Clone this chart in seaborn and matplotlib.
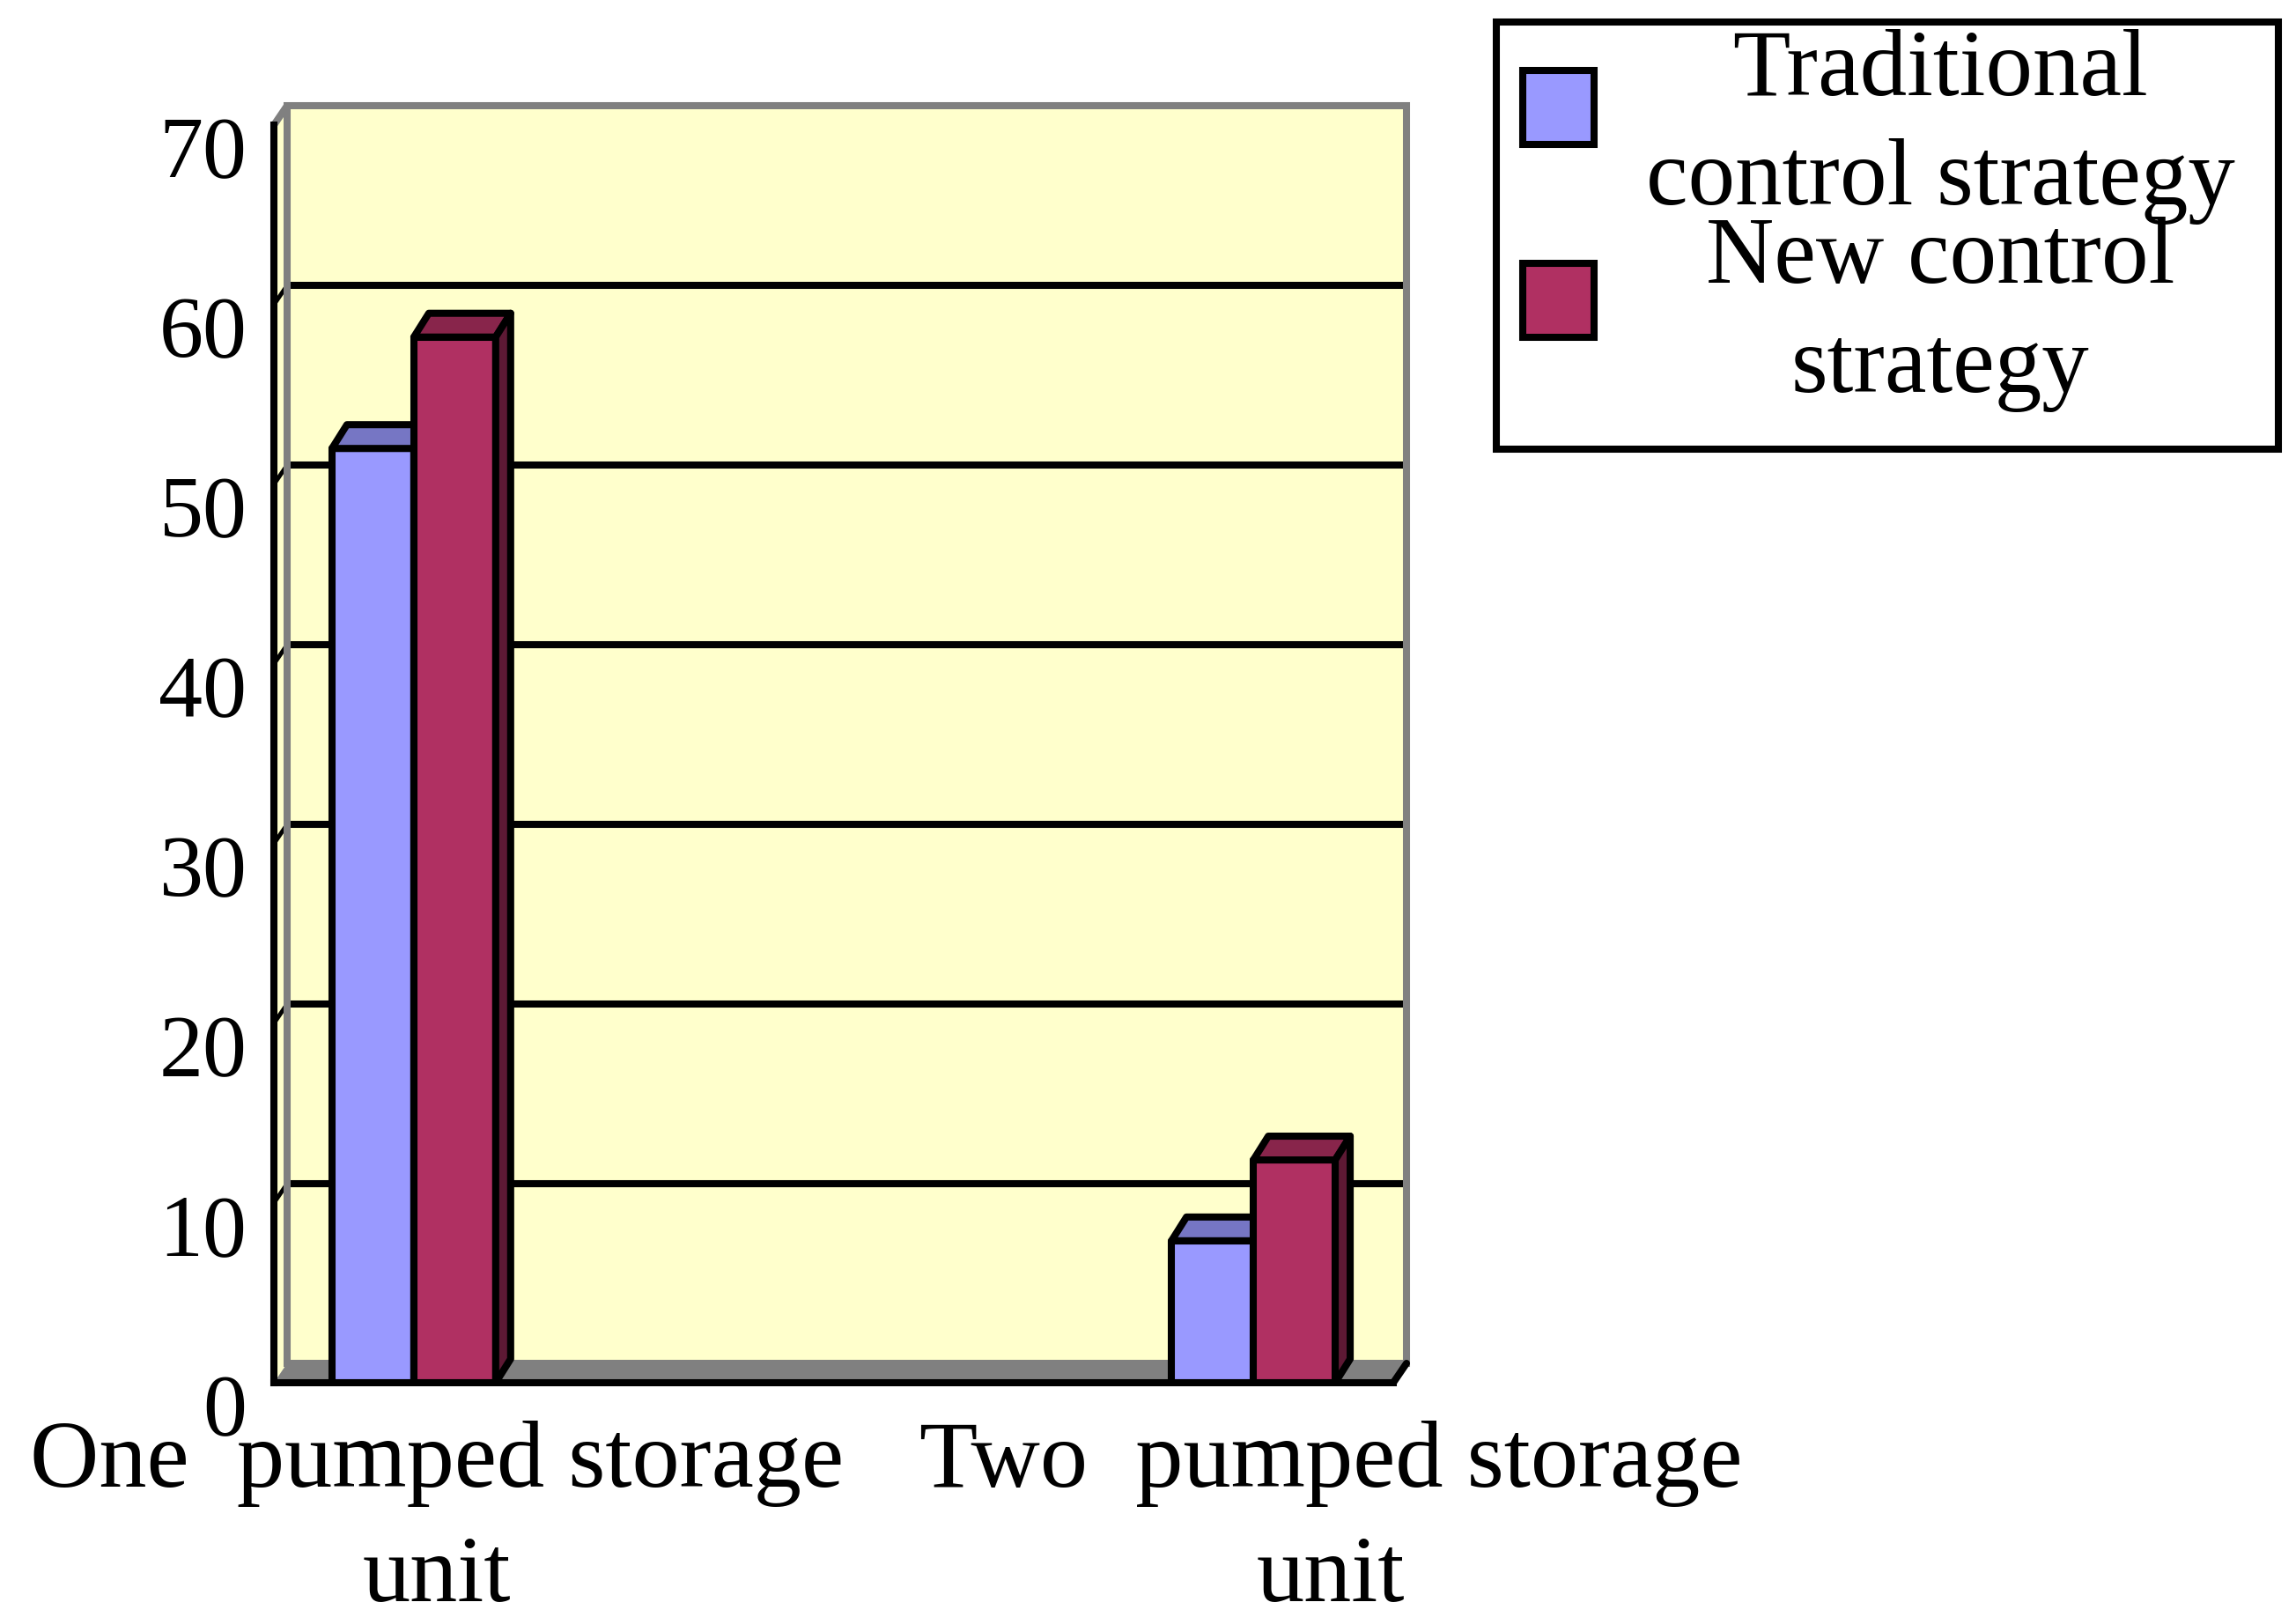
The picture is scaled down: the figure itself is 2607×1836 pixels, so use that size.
import numpy as np
import pandas as pd
import matplotlib
matplotlib.use("Agg")
import matplotlib.pyplot as plt
from matplotlib.patches import Polygon, Rectangle
from matplotlib.transforms import ScaledTranslation
import seaborn as sns

# ---------------- data ----------------
units = ["One pumped storage unit", "Two pumped storage unit"]
slots = ["One pumped storage unit", "empty slot A", "empty slot B", "Two pumped storage unit"]
slot_labels = ["One  pumped storage\nunit", "", "", "Two  pumped storage\nunit"]
series = ["Traditional control strategy", "New control strategy"]
legend_labels = ["Traditional\ncontrol strategy", "New control\nstrategy"]
traditional = [52.0, 7.9]
new_strategy = [58.2, 12.4]
y_ticks = [0, 10, 20, 30, 40, 50, 60, 70]

# ---------------- style ----------------
W, H, DPI = 2607, 1836, 100
sns.set_style("white")
plt.rcParams["font.family"] = ["Liberation Serif", "DejaVu Serif"]
plt.rcParams["text.color"] = "black"
plt.rcParams["xtick.labelcolor"] = "black"
plt.rcParams["ytick.labelcolor"] = "black"

BLUE, RED = "#9999FF", "#B03062"
WALL, GRAY = "#FFFFCC", "#808080"
LW = 5.8

fig = plt.figure(figsize=(W / DPI, H / DPI), dpi=DPI)


def fx(px):
    return px / W


def fy(py):
    return 1 - py / H


X0, X1, Y0, Y70 = 311, 1582, 1570, 142
ax = fig.add_axes([fx(X0), fy(Y0), fx(X1) - fx(X0), fy(Y70) - fy(Y0)])
ax.set_facecolor("none")

df = pd.DataFrame({
    "unit": units * 2,
    "strategy": [series[0]] * len(units) + [series[1]] * len(units),
    "value": traditional + new_strategy,
})

sns.barplot(data=df, x="unit", y="value", hue="strategy", order=slots,
            hue_order=series, palette=[BLUE, RED], width=0.585, saturation=1,
            edgecolor="black", linewidth=LW, legend=False, errorbar=None, ax=ax)

bars = sorted([p for p in ax.patches if isinstance(p, Rectangle)
               and np.isfinite(p.get_height()) and p.get_height() > 0],
              key=lambda p: p.get_x())

xl, xr = -0.5, len(slots) - 0.5
ax.set_xlim(xl, xr)
ax.set_ylim(y_ticks[0], y_ticks[-1])
ymax = y_ticks[-1]

pxx = (X1 - X0) / (xr - xl)
pxy = (Y0 - Y70) / (ymax - y_ticks[0])

# ---------------- 3D walls ----------------
WDX, WDY = 15 / pxx, 22 / pxy
back = Polygon([(xl + WDX, WDY), (xr + WDX, WDY), (xr + WDX, ymax + WDY), (xl + WDX, ymax + WDY)],
               closed=True, fc=WALL, ec="none", zorder=0.2, clip_on=False)
ax.add_patch(back)
side = Polygon([(xl, 0), (xl, ymax), (xl + WDX, ymax + WDY), (xl + WDX, WDY)],
               closed=True, fc=WALL, ec="none", zorder=0.2, clip_on=False)
ax.add_patch(side)
for v in y_ticks[1:-1]:
    ax.plot([xl + WDX, xr + WDX], [v + WDY, v + WDY], color="black", lw=LW,
            solid_capstyle="butt", zorder=0.3, clip_on=False)
    ax.plot([xl, xl + WDX], [v, v + WDY], color="black", lw=LW * 0.6,
            solid_capstyle="butt", zorder=0.3, clip_on=False)
outline = Polygon([(xl + WDX, WDY), (xr + WDX, WDY), (xr + WDX, ymax + WDY), (xl + WDX, ymax + WDY)],
                  closed=True, fill=False, ec=GRAY, lw=LW, zorder=0.35, clip_on=False,
                  joinstyle="miter")
ax.add_patch(outline)
ax.plot([xl, xl + WDX], [ymax, ymax + WDY], color=GRAY, lw=LW, zorder=0.35, clip_on=False)
floor = Polygon([(xl, 0), (xr, 0), (xr + WDX, WDY), (xl + WDX, WDY)],
                closed=True, fc=GRAY, ec="none", zorder=0.4, clip_on=False)
ax.add_patch(floor)
ax.plot([xr, xr + WDX], [0, WDY], color="black", lw=LW, zorder=0.45, clip_on=False)

# ---------------- 3D bars ----------------
BDX, BDY = 17 / pxx, 27 / pxy
for i, p in enumerate(bars):
    z = 2 + i * 0.1
    p.set_zorder(z)
    p.set_joinstyle("round")
    x, w, h = p.get_x(), p.get_width(), p.get_height()
    fc = np.array(p.get_facecolor()[:3])
    top = Polygon([(x, h), (x + w, h), (x + w + BDX, h + BDY), (x + BDX, h + BDY)],
                  closed=True, fc=fc * 0.77, ec="black", lw=LW, zorder=z + 0.05,
                  joinstyle="round", clip_on=False)
    sidef = Polygon([(x + w, 0), (x + w, h), (x + w + BDX, h + BDY), (x + w + BDX, BDY)],
                    closed=True, fc=fc * 0.53, ec="black", lw=LW, zorder=z + 0.05,
                    joinstyle="round", clip_on=False)
    ax.add_patch(top)
    ax.add_patch(sidef)

# ---------------- axes ----------------
for s in ["top", "right"]:
    ax.spines[s].set_visible(False)
for s in ["left", "bottom"]:
    ax.spines[s].set_visible(True)
    ax.spines[s].set_color("black")
    ax.spines[s].set_linewidth(LW)
    ax.spines[s].set_zorder(5)
    ax.spines[s].set_capstyle("projecting")

ax.set_xlabel("")
ax.set_ylabel("")
ax.set_xticks(range(len(slots)))
ax.set_xticklabels(slot_labels)
ax.set_xticks([k + 0.5 for k in range(len(slots))], minor=True)
ax.tick_params(axis="x", which="major", length=0, pad=31, labelsize=78, labelcolor="black")
ax.tick_params(axis="x", which="minor", direction="in", length=15, width=LW, color="black")
ax.set_yticks(y_ticks)
ax.set_yticklabels([str(v) for v in y_ticks])
ax.tick_params(axis="y", which="major", direction="in", length=18, width=LW,
               color="black", pad=22, labelsize=72, labelcolor="black")
ax.grid(False)

down = ScaledTranslation(0, -25 / DPI, fig.dpi_scale_trans)
for lbl in ax.get_yticklabels():
    lbl.set_transform(lbl.get_transform() + down)
x_shift = {0: 26, 3: 88}
for k, lbl in enumerate(ax.get_xticklabels()):
    lbl.set_linespacing(1.43)
    lbl.set_multialignment("center")
    if k in x_shift:
        lbl.set_transform(lbl.get_transform() + ScaledTranslation(x_shift[k] / DPI, 0, fig.dpi_scale_trans))

# ---------------- legend ----------------
box = Rectangle((fx(1699), fy(510)), fx(2587) - fx(1699), fy(25) - fy(510),
                transform=fig.transFigure, fc="white", ec="black", lw=LW, zorder=1)
fig.add_artist(box)
marker_tops = [80, 299]
text_tops = [33, 246]
for lab, col, mt, tt in zip(legend_labels, [BLUE, RED], marker_tops, text_tops):
    fig.add_artist(Rectangle((fx(1729), fy(mt + 84)), fx(1810) - fx(1729), fy(mt) - fy(mt + 84),
                             transform=fig.transFigure, fc=col, ec="black", lw=LW, zorder=2))
    fig.text(fx(2203), fy(tt), lab, ha="center", va="top", multialignment="center",
             fontsize=77, linespacing=1.35, color="black", zorder=3)

fig.savefig("out.png", dpi=DPI, facecolor="white")
